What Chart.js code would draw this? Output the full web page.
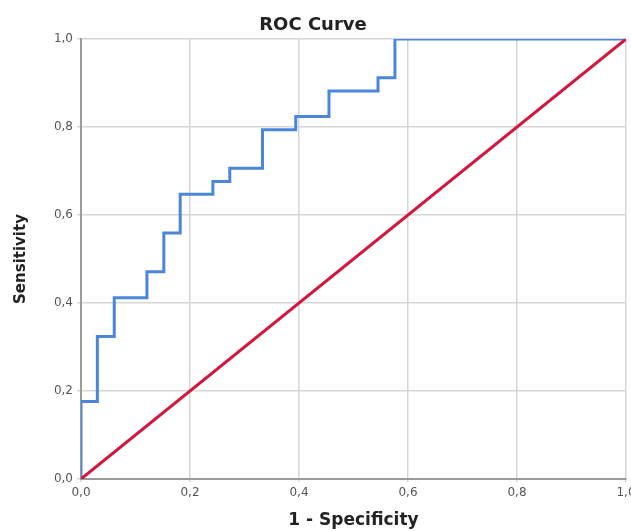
<!DOCTYPE html>
<html lang="en">

<head>
  <meta charset="UTF-8">
  <title>ROC Curve</title>
  <style>
    html, body { margin: 0; padding: 0; background: #fff; }
    .wrap { width: 631px; height: 531px; }
  </style>
</head>

<body>
  <div class="wrap">
    <canvas id="roc" width="631" height="531"></canvas>
  </div>

  <script src="https://cdn.jsdelivr.net/npm/chart.js"></script>
  <script>
    // ROC coordinates (1 - specificity, sensitivity)
    const fpr = [0, 0, 0.030, 0.061, 0.121, 0.152, 0.182, 0.242, 0.273, 0.333, 0.394, 0.455, 0.545, 0.576, 1.0];
    const tpr = [0, 0.176, 0.324, 0.412, 0.471, 0.559, 0.647, 0.676, 0.706, 0.794, 0.824, 0.882, 0.912, 1.0, 1.0];
    // reference line
    const refX = [0, 1];
    const refY = [0, 1];
    const tickValues = [0, 0.2, 0.4, 0.6, 0.8, 1.0];

    const fmt = v => v.toFixed(1).replace('.', ',');
    const labelFont = { family: 'DejaVu Sans', size: 12 };

    new Chart(document.getElementById('roc'), {
      type: 'scatter',
      data: {
        datasets: [{
          label: 'Reference',
          data: refX.map((x, i) => ({ x: x, y: refY[i] })),
          showLine: true,
          borderColor: '#D2173F',
          borderWidth: 3,
          pointRadius: 0
        }, {
          label: 'ROC',
          data: fpr.map((x, i) => ({ x: x, y: tpr[i] })),
          showLine: true,
          stepped: 'before',
          borderColor: '#4A86DC',
          borderWidth: 3,
          pointRadius: 0
        }]
      },
      options: {
        responsive: false,
        animation: false,
        layout: { padding: { left: 0, right: 5, top: 0, bottom: 0 } },
        plugins: {
          legend: { display: false },
          tooltip: { enabled: false },
          title: {
            display: true,
            text: 'ROC Curve',
            color: '#222',
            font: { family: 'DejaVu Sans', size: 18, weight: 'bold', lineHeight: 1.2 },
            padding: { top: 15, bottom: 2.4 }
          }
        },
        scales: {
          x: {
            type: 'linear',
            min: 0, max: 1,
            afterBuildTicks: s => { s.ticks = tickValues.map(v => ({ value: v })); },
            afterFit: s => { s.height = 52; s.paddingRight = 0; s.paddingLeft = 0; },
            ticks: { callback: fmt, color: '#555', font: labelFont, padding: 4, maxRotation: 0 },
            grid: { color: '#d6d6d6', lineWidth: 1.5, tickLength: 3 },
            border: { color: '#9a9a9a', width: 2 },
            title: {
              display: true,
              text: '1 - Specificity',
              color: '#222',
              font: { family: 'DejaVu Sans', size: 17, weight: 'bold' },
              padding: { top: 6, bottom: 0 }
            }
          },
          y: {
            type: 'linear',
            min: 0, max: 1,
            afterBuildTicks: s => { s.ticks = tickValues.map(v => ({ value: v })); },
            afterFit: s => { s.width = 81; },
            ticks: { callback: fmt, color: '#555', font: labelFont, padding: 4 },
            grid: { color: '#d6d6d6', lineWidth: 1.5, tickLength: 4 },
            border: { color: '#9a9a9a', width: 2 },
            title: {
              display: true,
              text: 'Sensitivity',
              color: '#222',
              font: { family: 'DejaVu Sans', size: 15, weight: 'bold' },
              padding: { top: 12, bottom: 0 }
            }
          }
        }
      }
    });
  </script>
</body>

</html>
